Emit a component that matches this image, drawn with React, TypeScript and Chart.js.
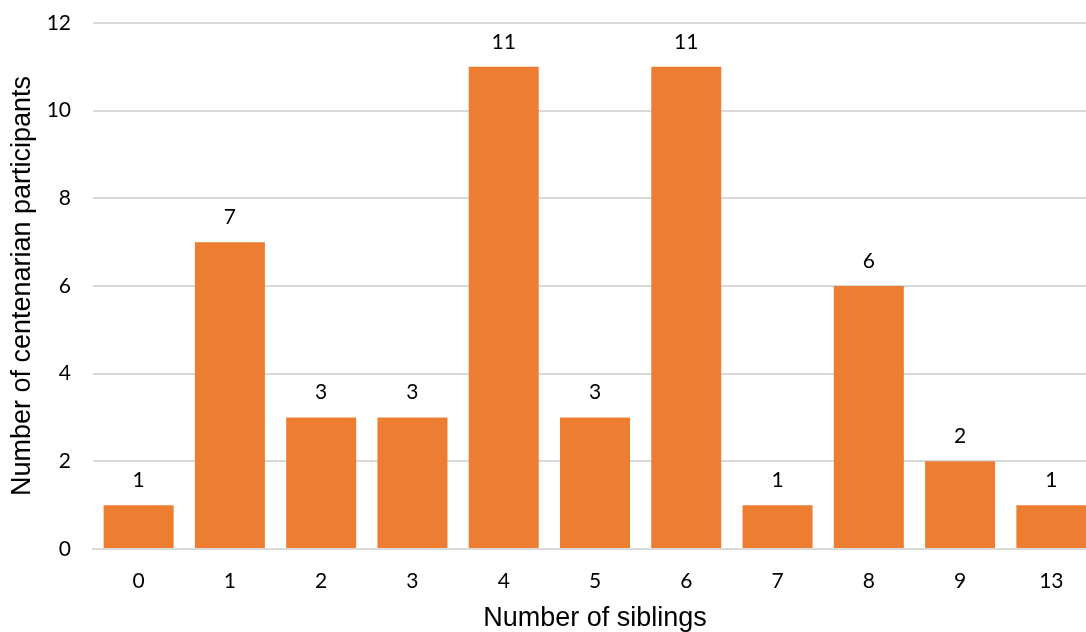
import React, { useEffect, useRef } from "react";
import { Chart, registerables } from "chart.js";

Chart.register(...registerables);

const categories = ["0", "1", "2", "3", "4", "5", "6", "7", "8", "9", "13"];
const participants = [1, 7, 3, 3, 11, 3, 11, 1, 6, 2, 1];
const yTicks = [0, 2, 4, 6, 8, 10, 12];

const tickFont = "Lato, 'Open Sans', sans-serif";
const titleFont = "'Liberation Sans', Arial, sans-serif";

const valueLabels = {
  id: "valueLabels",
  afterDatasetsDraw(chart: any) {
    const ctx = chart.ctx;
    const meta = chart.getDatasetMeta(0);
    ctx.save();
    ctx.font = `21px ${tickFont}`;
    ctx.fillStyle = "#000";
    ctx.textAlign = "center";
    ctx.textBaseline = "middle";
    meta.data.forEach((bar: any, i: number) => {
      ctx.fillText(String(participants[i]), bar.x, bar.y - 25);
    });
    ctx.restore();
  },
};

export default function App() {
  const ref = useRef<HTMLCanvasElement>(null);
  useEffect(() => {
    const chart = new Chart(ref.current!, {
      type: "bar",
      data: {
        labels: categories,
        datasets: [
          {
            data: participants,
            backgroundColor: "#ED7D31",
            borderWidth: 0,
            barPercentage: 0.767,
            categoryPercentage: 1,
          },
        ],
      },
      options: {
        animation: false,
        responsive: false,
        maintainAspectRatio: false,
        layout: { padding: { top: 23, right: 0, left: 0, bottom: 0 } },
        plugins: { legend: { display: false }, tooltip: { enabled: false } },
        scales: {
          x: {
            grid: { display: false, drawTicks: false },
            border: { display: true, color: "#d9d9d9", width: 2 },
            ticks: { color: "#000", font: { size: 21, family: tickFont }, padding: 20 },
            title: {
              display: true,
              text: "Number of siblings",
              color: "#000",
              font: { size: 27, family: titleFont, lineHeight: 1 },
              padding: { top: 0, bottom: 0 },
            },
            afterFit: (s: any) => {
              s.height = 83;
              s.paddingLeft = 0;
              s.paddingRight = 0;
            },
          },
          y: {
            min: 0,
            max: 12,
            afterBuildTicks: (s: any) => {
              s.ticks = yTicks.map((v) => ({ value: v }));
            },
            grid: { color: "#d9d9d9", lineWidth: 2, drawTicks: false },
            border: { display: false },
            ticks: { color: "#000", font: { size: 21, family: tickFont }, padding: 22 },
            title: {
              display: true,
              text: "Number of centenarian participants",
              color: "#000",
              font: { size: 27, family: titleFont },
              padding: { top: 6, bottom: 13 },
            },
            afterFit: (s: any) => {
              s.width = 93;
              s.paddingTop = 0;
              s.paddingBottom = 0;
            },
          },
        },
      },
      plugins: [valueLabels],
    });
    return () => chart.destroy();
  }, []);
  return (
    <div
      style={{
        position: "fixed",
        left: 0,
        top: 0,
        width: 1086,
        height: 632,
        overflow: "hidden",
        background: "#fff",
      }}
    >
      <canvas ref={ref} width={1097} height={632} />
    </div>
  );
}
